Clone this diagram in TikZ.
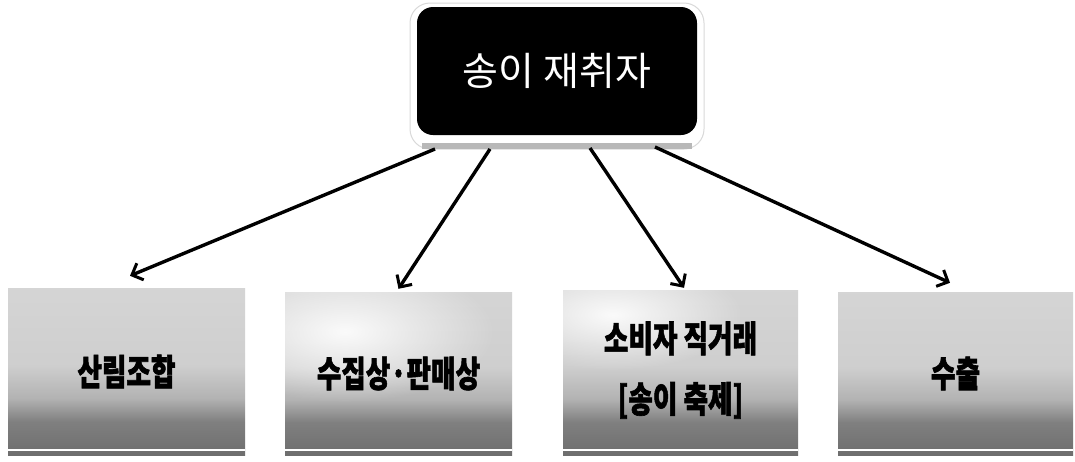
\documentclass[tikz,border=0pt]{standalone}
\usepackage{fontspec}
\newfontfamily\kr{Noto Sans CJK KR}[BoldFeatures={FakeBold=1.8}]
\usetikzlibrary{arrows.meta,fadings}
\tikzfading[name=haze, inner color=transparent!0, outer color=transparent!100]
\pgfdeclareverticalshading{boxshade}{100bp}{color(0bp)=(black!62); color(25bp)=(black!57); color(35bp)=(black!50); color(42bp)=(black!30); color(52bp)=(black!19); color(100bp)=(black!14)}
\begin{document}
\begin{tikzpicture}[x=1pt,y=-1pt,
  lowbox/.style={rectangle, minimum width=#1, inner sep=0pt, shade, shading=boxshade,
    font=\kr\bfseries\fontsize{36}{37}\selectfont, text=black},
  topbox/.style={rectangle, rounded corners=16pt, fill=black, text=white,
    minimum width=280pt, minimum height=128pt, inner sep=0pt,
    font=\kr\fontsize{39}{42}\selectfont},
  glow/.style={rectangle, rounded corners=20pt, draw=black!15, line width=1pt, fill=white,
    minimum width=294pt, minimum height=146pt, inner sep=0pt},
  arr/.style={-{Straight Barb[length=9pt,width=18pt,line width=3pt]}, line width=3.4pt, black},
  whiteline/.style={white, line width=1.8pt},
  whitepatch/.style={white, path fading=haze, fill opacity=0.9}
]
\useasboundingbox (0,0) rectangle (1075,461);
\fill[white] (0,0) rectangle (1075,461);

% top node
\node[glow] (glow) at (557,76) {};
\fill[black!28] (422,143) rectangle (692,149);
\node[topbox] (top) at (557,71) {송이 재취자};

% bottom boxes
\node[lowbox=237pt, minimum height=167pt] (b1) at (126.5,371.5) {\scalebox{0.74}[1]{산림조합}};
\node[lowbox=227pt, minimum height=163pt] (b2) at (398.5,373.5) {};
\node[lowbox=235pt, minimum height=165pt] (b3) at (680.5,372.5) {};
\node[lowbox=235pt, minimum height=163pt] (b4) at (955.5,373.5) {\scalebox{0.74}[1]{수출}};

% white haze in upper left of boxes 2 and 3
\begin{scope}
\clip (b2.south west) rectangle (b2.north east);
\fill[whitepatch] ([shift={(60,40)}]b2.north west) ellipse [x radius=150pt, y radius=70pt];
\end{scope}
\begin{scope}
\clip (b3.south west) rectangle (b3.north east);
\fill[whitepatch] ([shift={(50,25)}]b3.north west) ellipse [x radius=130pt, y radius=55pt];
\end{scope}

\node[font=\kr\bfseries\fontsize{36}{37}\selectfont] (t2) at (b2) {\scalebox{0.74}[1]{수집상·판매상}};
\node[font=\kr\bfseries\fontsize{36}{37}\selectfont] (t3) at (b3) {\scalebox{0.74}[1]{\begin{tabular}{@{}c@{}}소비자 직거래\\[19pt]{[}송이 축제{]}\end{tabular}}};

\foreach \b in {b1,b2,b3,b4}{
  \draw[whiteline] ([yshift=5pt]\b.south west) -- ([yshift=5pt]\b.south east);
}

% connectors
\coordinate (s1) at (435,149);
\coordinate (s2) at (490,149);
\coordinate (s3) at (590,148);
\coordinate (s4) at (655,147);
\draw[arr] (s1) -- ([shift={(3.5,-12)}]b1.north);
\draw[arr] (s2) -- ([shift={(0,-3)}]b2.north);
\draw[arr] (s3) -- ([shift={(3.5,-2)}]b3.north);
\draw[arr] (s4) -- ([shift={(-5.5,-9)}]b4.north);
\end{tikzpicture}
\end{document}
